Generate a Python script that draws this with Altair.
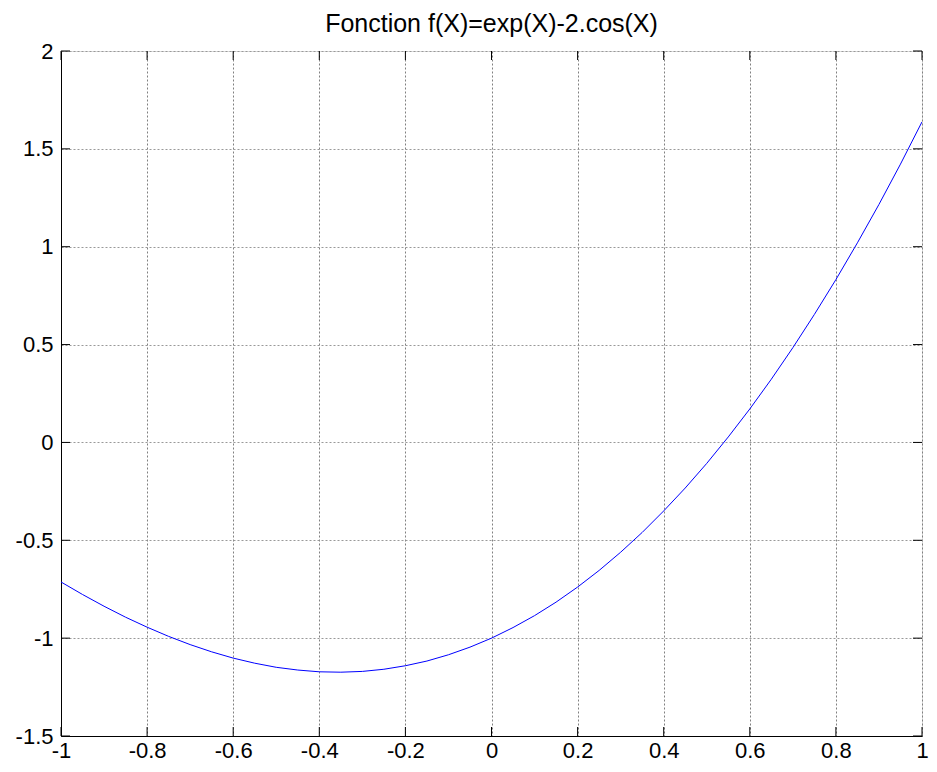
import altair as alt
import pandas as pd

# x samples and f(x) values
xs = [-1.0, -0.95, -0.9, -0.85, -0.8, -0.75, -0.7, -0.65, -0.6, -0.55, -0.5,
      -0.45, -0.4, -0.35, -0.3, -0.25, -0.2, -0.15, -0.1, -0.05, 0.0,
      0.05, 0.1, 0.15, 0.2, 0.25, 0.3, 0.35, 0.4, 0.45, 0.5,
      0.55, 0.6, 0.65, 0.7, 0.75, 0.8, 0.85, 0.9, 0.95, 1.0]
ys = [-0.713, -0.777, -0.837, -0.893, -0.944, -0.991, -1.033, -1.070, -1.102, -1.128, -1.149,
      -1.163, -1.172, -1.174, -1.170, -1.159, -1.141, -1.117, -1.085, -1.046, -1.000,
      -0.946, -0.885, -0.816, -0.739, -0.654, -0.561, -0.460, -0.350, -0.233, -0.107,
      0.028, 0.171, 0.323, 0.484, 0.654, 0.832, 1.020, 1.216, 1.422, 1.638]

x_ticks = [-1, -0.8, -0.6, -0.4, -0.2, 0, 0.2, 0.4, 0.6, 0.8, 1]
y_ticks = [-1.5, -1, -0.5, 0, 0.5, 1, 1.5, 2]

W, H = 861, 685
TL = 9
FONT = "Liberation Sans"

curve = pd.DataFrame({"x": xs, "y": ys})
xt = pd.DataFrame({"v": x_ticks})
yt = pd.DataFrame({"v": y_ticks})

xscale = alt.Scale(domain=[-1, 1], nice=False, zero=False)
yscale = alt.Scale(domain=[-1.5, 2], nice=False, zero=False)

line = alt.Chart(curve).mark_line(color="#0000ff", strokeWidth=1, clip=True).encode(
    x=alt.X("x:Q", scale=xscale, axis=alt.Axis(
        values=x_ticks, title=None, labelExpr="'' + datum.value",
        grid=True, gridDash=[2, 2], gridColor="#808080", gridWidth=1,
        ticks=False, domainColor="black", labelColor="black",
        labelFont=FONT, labelFontSize=22, labelPadding=4, labelFlush=False)),
    y=alt.Y("y:Q", scale=yscale, axis=alt.Axis(
        values=y_ticks, title=None, labelExpr="'' + datum.value",
        grid=True, gridDash=[2, 2], gridColor="#999999", gridWidth=1,
        ticks=False, domainColor="black", labelColor="black",
        labelFont=FONT, labelFontSize=22, labelPadding=8, labelFlush=False)),
)

xb = alt.Chart(xt).mark_rule(color="black", strokeWidth=1).encode(
    x=alt.X("v:Q", scale=xscale), y=alt.value(H), y2=alt.value(H - TL))
xtop = alt.Chart(xt).mark_rule(color="black", strokeWidth=1).encode(
    x=alt.X("v:Q", scale=xscale), y=alt.value(0), y2=alt.value(TL))
yl = alt.Chart(yt).mark_rule(color="black", strokeWidth=1).encode(
    y=alt.Y("v:Q", scale=yscale), x=alt.value(0), x2=alt.value(TL))
yr = alt.Chart(yt).mark_rule(color="black", strokeWidth=1).encode(
    y=alt.Y("v:Q", scale=yscale), x=alt.value(W), x2=alt.value(W - TL))

chart = alt.layer(line, xb, xtop, yl, yr).properties(
    width=W, height=H,
    autosize=alt.AutoSizeParams(type="none"),
    padding={"left": 53, "top": 43, "right": 7, "bottom": 27},
    title=alt.TitleParams("Fonction f(X)=exp(X)-2.cos(X)", font=FONT, fontSize=25,
                          fontWeight="normal", color="black", anchor="middle",
                          frame="group", offset=3),
).configure_view(stroke="black", strokeWidth=1).configure(background="white")

chart.save("out.html", embed_options={"renderer": "svg", "actions": False})
